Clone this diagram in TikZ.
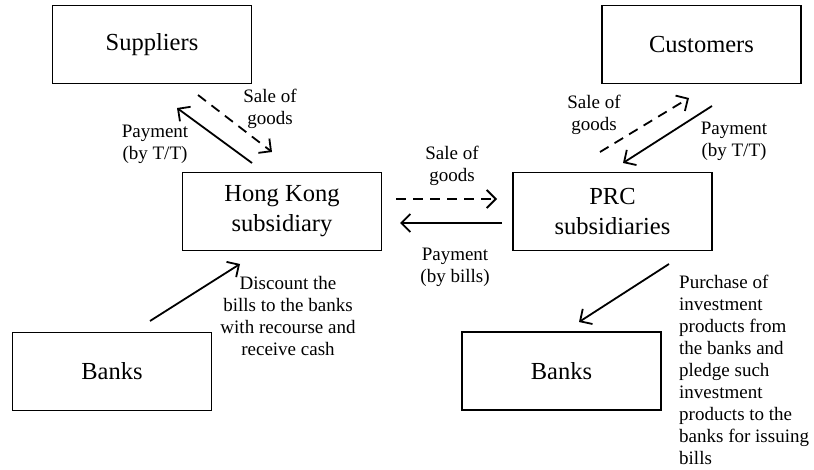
\documentclass[tikz,border=0pt]{standalone}
\usepackage{fontspec}
\setmainfont{Liberation Serif}
\usetikzlibrary{arrows.meta}

\tikzset{
  entity/.style={draw, line width=1.3pt, minimum width=199pt, minimum height=78pt,
    align=center, inner sep=0pt, font=\fontsize{24.5}{30}\selectfont},
  note/.style={align=center, inner sep=0pt, font=\fontsize{19}{22}\selectfont},
  flow/.style={line width=1.8pt, -{Straight Barb[length=9pt, width=18pt]}},
  goods/.style={flow, dash pattern=on 10pt off 7pt},
}

\begin{document}
\begin{tikzpicture}[x=1pt, y=-1pt]

		\useasboundingbox (0,0) rectangle (814,470);

		% boxes
		\node[entity] (sup) at (152,44.5) {Suppliers};
		\node[entity] (cus) at (701.5,44.5) {Customers};
		\node[entity] (hk) at (282,211.5) {Hong Kong\\subsidiary};
		\node[entity] (prc) at (612.5,211.5) {PRC\\subsidiaries};
		\node[entity] (bankL) at (112,371.5) {Banks};
		\node[entity] (bankR) at (561.5,371) {Banks};

		% end points of the arrows
		\coordinate (supPayA) at (252,163);
		\coordinate (supPayB) at (177,108);
		\coordinate (supSaleA) at (198,95);
		\coordinate (supSaleB) at (272,152);
		\coordinate (midSaleA) at (396,199);
		\coordinate (midSaleB) at (497,199);
		\coordinate (midPayA) at (502,223);
		\coordinate (midPayB) at (400,223);
		\coordinate (discA) at (150,321);
		\coordinate (discB) at (240,264);
		\coordinate (cusSaleA) at (600,152);
		\coordinate (cusSaleB) at (689,98);
		\coordinate (cusPayA) at (712,106);
		\coordinate (cusPayB) at (623,163);
		\coordinate (invA) at (669,264);
		\coordinate (invB) at (579,322);

		\draw[flow] (supPayA) -- (supPayB);
		\draw[goods] (supSaleA) -- (supSaleB);
		\draw[goods] (midSaleA) -- (midSaleB);
		\draw[flow] (midPayA) -- (midPayB);
		\draw[flow] (discA) -- (discB);
		\draw[goods] (cusSaleA) -- (cusSaleB);
		\draw[flow] (cusPayA) -- (cusPayB);
		\draw[flow] (invA) -- (invB);

		% texts
		\node[note] (supSaleT) at (270,109) {Sale of\\goods};
		\node[note] (supPayT) at (155,144) {Payment\\(by T/T)};
		\node[note] (midSaleT) at (452,166) {Sale of\\goods};
		\node[note] (midPayT) at (455,267) {Payment\\(by bills)};
		\node[note] (discT) at (288,316.5) {Discount the\\bills to the banks\\with recourse and\\receive cash};
		\node[note] (cusSaleT) at (594,114.5) {Sale of\\goods};
		\node[note] (cusPayT) at (734,141.5) {Payment\\(by T/T)};
		\node[note, align=left, anchor=west] (invT) at (679,369.5) {Purchase of\\investment\\products from\\the banks and\\pledge such\\investment\\products to the\\banks for issuing\\bills};
	\end{tikzpicture}
\end{document}
